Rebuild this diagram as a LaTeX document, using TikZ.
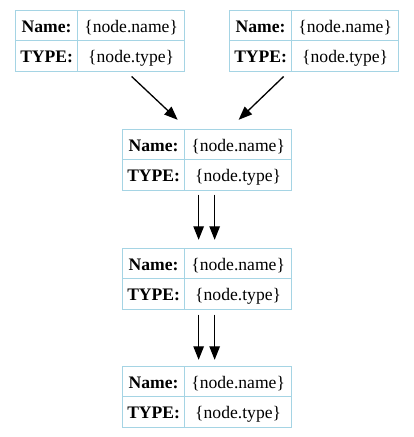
\documentclass[tikz,border=0pt]{standalone}
\usepackage{fontspec}
\setmainfont{Liberation Serif}
\usetikzlibrary{arrows.meta,fit}
\definecolor{gvblue}{RGB}{165,212,228}
\tikzset{
  cell/.style={draw=gvblue, line width=1.3pt, anchor=north west, inner sep=0pt,
    minimum height=#1, text height=14.5pt, text depth=0.5pt,
    font=\fontsize{17.6}{20}\selectfont},
  labcell/.style={cell=#1, minimum width=62pt, font=\fontsize{17.6}{20}\selectfont\bfseries},
  valcell/.style={cell=#1, minimum width=107pt},
  tblbox/.style={inner sep=0pt, draw=none},
  arr/.style={line width=1.3pt, -{Triangle[length=13.5pt,width=10.5pt]}}
}
\newcommand{\gvtable}[3]{%
  \node[labcell=29.5pt] (#1a) at (#2,#3) {Name:};
  \node[valcell=29.5pt] (#1b) at (#2+62,#3) {\{node.name\}};
  \node[labcell=31pt] (#1c) at (#2,#3+29.5) {TYPE:};
  \node[valcell=31pt] (#1d) at (#2+62,#3+29.5) {\{node.type\}};
  \node[tblbox, fit=(#1a)(#1d)] (#1) {};
}
\begin{document}
\begin{tikzpicture}[x=1pt,y=-1pt]
\useasboundingbox (0,0) rectangle (413,437);
\gvtable{t1}{15}{10}
\gvtable{t2}{229}{10}
\gvtable{t3}{122}{129}
\gvtable{t4}{122}{248}
\gvtable{t5}{122}{366}
\draw[arr] ([xshift=31.5pt,yshift=-4.5pt]t1.south) -- ([xshift=-29.5pt,yshift=9pt]t3.north);
\draw[arr] ([xshift=-30.5pt,yshift=-4.5pt]t2.south) -- ([xshift=31.5pt,yshift=9pt]t3.north);
\draw[arr] ([xshift=-8.5pt,yshift=-3.5pt]t3.south) -- ([xshift=-8.5pt,yshift=8pt]t4.north);
\draw[arr] ([xshift=7.5pt,yshift=-3.5pt]t3.south) -- ([xshift=7.5pt,yshift=8pt]t4.north);
\draw[arr] ([xshift=-8.5pt,yshift=-4.5pt]t4.south) -- ([xshift=-8.5pt,yshift=6pt]t5.north);
\draw[arr] ([xshift=7.5pt,yshift=-4.5pt]t4.south) -- ([xshift=7.5pt,yshift=6pt]t5.north);
\end{tikzpicture}
\end{document}
